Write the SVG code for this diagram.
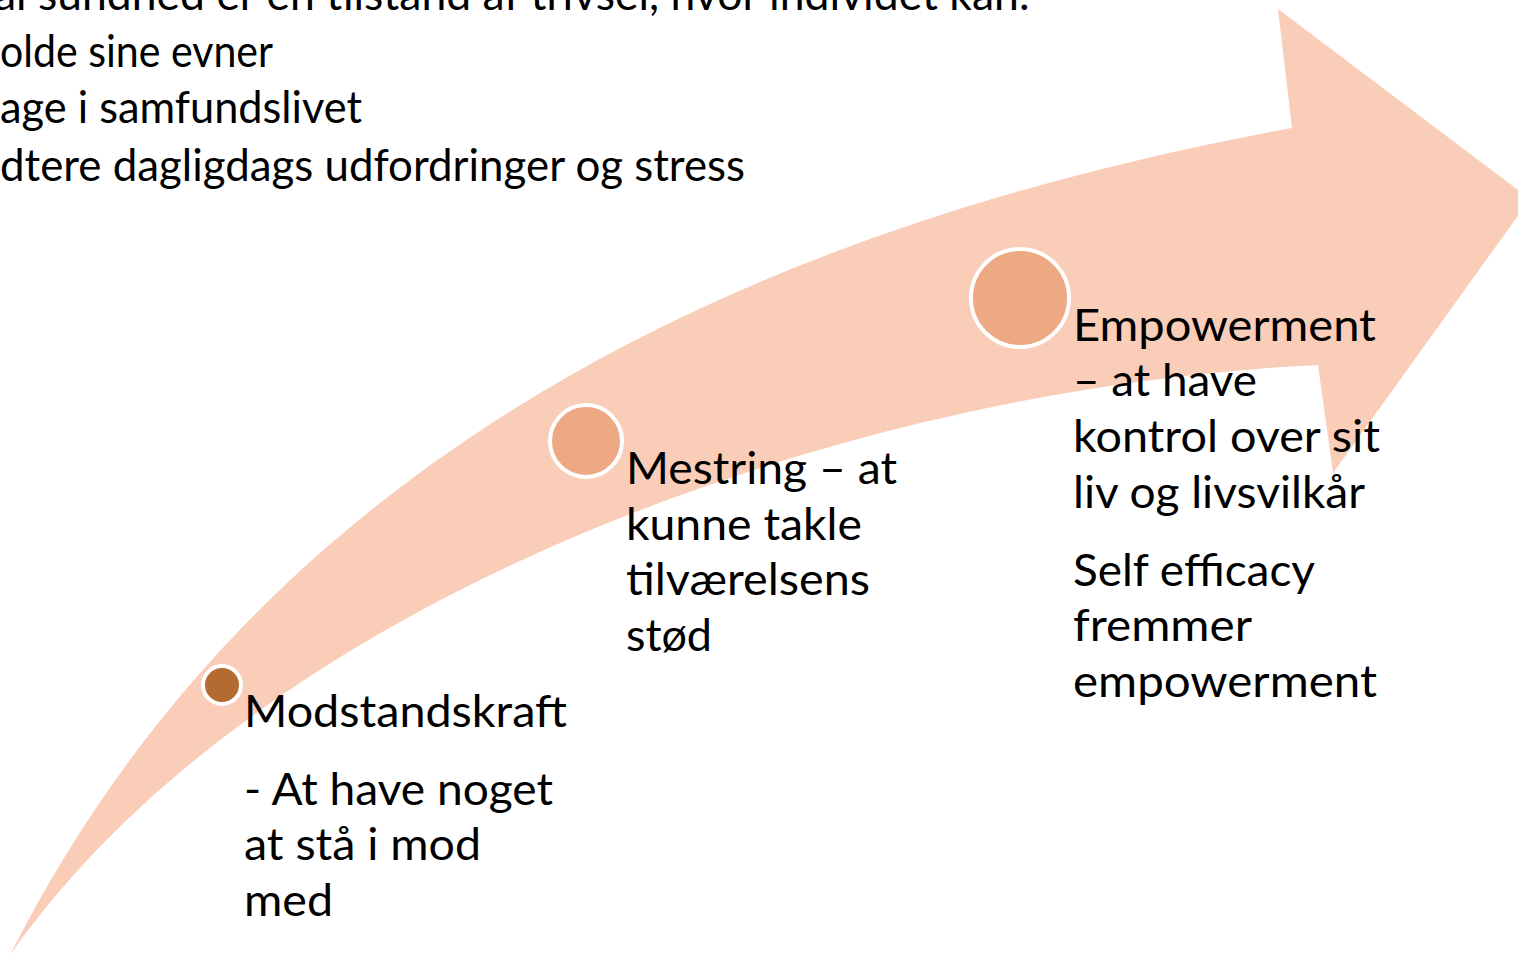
<svg xmlns="http://www.w3.org/2000/svg" width="1518" height="956" viewBox="0 0 1518 956">
<style>
.t{font-family:Lato,"Liberation Sans",sans-serif;font-size:44px;fill:#000}
.dot{stroke:#fff;stroke-width:4}
</style>
<rect width="1518" height="956" fill="#fff"/>
<g id="connectors">
<path id="arrow" d="M10,955 C240,500 680,240 1292,128 L1278,9 L1530,199 L1333,473 L1318,365 C870,385 270,585 10,955 Z" fill="#f9cdb7"/>
</g>
<g id="header">
<text class="t" x="-6" y="10" textLength="1036" lengthAdjust="spacingAndGlyphs">al sundhed er en tilstand af trivsel, hvor individet kan:</text>
<text class="t" x="0" y="67" textLength="273" lengthAdjust="spacingAndGlyphs">olde sine evner</text>
<text class="t" x="0" y="123" textLength="362" lengthAdjust="spacingAndGlyphs">age i samfundslivet</text>
<text class="t" x="0" y="181" textLength="745" lengthAdjust="spacingAndGlyphs">dtere dagligdags udfordringer og stress</text>
</g>
<g id="node-modstandskraft">
<circle class="dot" cx="222" cy="685" r="19" fill="#b36b32"/>
<text class="t" x="244" y="727" textLength="323" lengthAdjust="spacingAndGlyphs">Modstandskraft</text>
<text class="t" x="244" y="805" textLength="309" lengthAdjust="spacingAndGlyphs">- At have noget</text>
<text class="t" x="244" y="860" textLength="237" lengthAdjust="spacingAndGlyphs">at stå i mod</text>
<text class="t" x="244" y="916" textLength="89" lengthAdjust="spacingAndGlyphs">med</text>
</g>
<g id="node-mestring">
<circle class="dot" cx="586" cy="441" r="36" fill="#eda984"/>
<text class="t" x="626" y="484" textLength="271" lengthAdjust="spacingAndGlyphs">Mestring – at</text>
<text class="t" x="626" y="540" textLength="236" lengthAdjust="spacingAndGlyphs">kunne takle</text>
<text class="t" x="626" y="595" textLength="244" lengthAdjust="spacingAndGlyphs">tilværelsens</text>
<text class="t" x="626" y="651" textLength="86" lengthAdjust="spacingAndGlyphs">stød</text>
</g>
<g id="node-empowerment">
<circle class="dot" cx="1020" cy="298" r="49" fill="#eda984"/>
<text class="t" x="1073" y="341" textLength="303" lengthAdjust="spacingAndGlyphs">Empowerment</text>
<text class="t" x="1073" y="396" textLength="184" lengthAdjust="spacingAndGlyphs">– at have</text>
<text class="t" x="1073" y="452" textLength="307" lengthAdjust="spacingAndGlyphs">kontrol over sit</text>
<text class="t" x="1073" y="508" textLength="292" lengthAdjust="spacingAndGlyphs">liv og livsvilkår</text>
<text class="t" x="1073" y="586" textLength="242" lengthAdjust="spacingAndGlyphs">Self efficacy</text>
<text class="t" x="1073" y="641" textLength="179" lengthAdjust="spacingAndGlyphs">fremmer</text>
<text class="t" x="1073" y="697" textLength="304" lengthAdjust="spacingAndGlyphs">empowerment</text>
</g>
</svg>
